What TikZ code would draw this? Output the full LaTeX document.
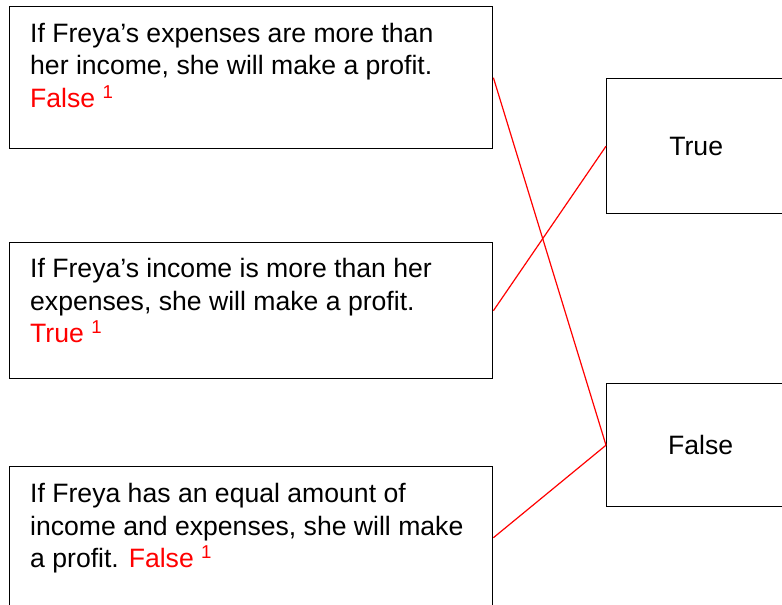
\documentclass[tikz,border=0pt]{standalone}
\usepackage{fontspec}
\setmainfont{Liberation Sans}
\begin{document}
\begin{tikzpicture}[
    x=1pt, y=-1pt,
    statement/.style={rectangle, draw, line width=1.4pt, anchor=north west, inner sep=0pt},
    answer/.style={rectangle, draw, line width=1.4pt, anchor=north west, inner sep=0pt, font=\fontsize{26.6}{30}\selectfont},
    stext/.style={anchor=north west, inner sep=0pt, align=left, font=\fontsize{26.6}{32.5}\selectfont},
    link/.style={red, line width=1.2pt}
]
    \useasboundingbox (0,0) rectangle (782,605);
    \clip (0,0) rectangle (782,605);

    \node[statement, minimum width=483pt, minimum height=142pt] (s1) at (9,6) {};
    \node[statement, minimum width=483pt, minimum height=136pt] (s2) at (9,242) {};
    \node[statement, minimum width=483pt, minimum height=142pt] (s3) at (9,466) {};

    \node[stext] (t1) at (30,23) {If Freya’s expenses are more than\\her income, she will make a profit.\\\textcolor{red}{False \textsuperscript{1}}};
    \node[stext] (t2) at (30,258.5) {If Freya’s income is more than her\\expenses, she will make a profit.\\\textcolor{red}{True \textsuperscript{1}}};
    \node[stext] (t3) at (30,483.5) {If Freya has an equal amount of\\income and expenses, she will make\\a profit. \textcolor{red}{False \textsuperscript{1}}};

    \node[answer, minimum width=179pt, minimum height=135pt] (yes) at (606,78) {True};
    \node[answer, minimum width=188pt, minimum height=123pt] (no) at (606,383) {False};

    \draw[link] (s1.east) -- (no.west);
    \draw[link] (s2.east) -- (yes.west);
    \draw[link] (s3.east) -- (no.west);
\end{tikzpicture}
\end{document}
